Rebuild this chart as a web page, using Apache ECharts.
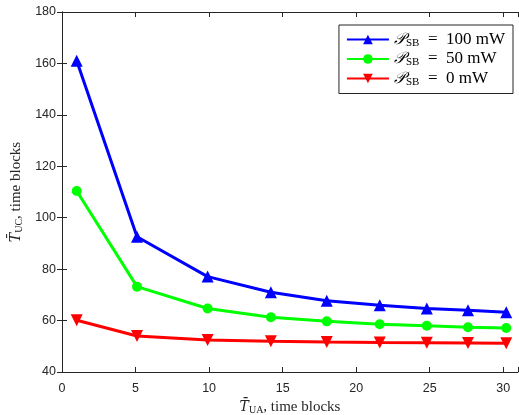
<!DOCTYPE html>
<html><head><meta charset="utf-8">
<script src="https://cdn.jsdelivr.net/npm/echarts@6/dist/echarts.min.js"></script>
<style>html,body{margin:0;padding:0;background:#fff}#c{width:519px;height:415px}</style>
</head><body><div id="c"></div>
<script>
const xValues = [1, 5.1, 9.9, 14.2, 18, 21.6, 24.8, 27.6, 30.2];
const p100 = [161, 92.6, 77.1, 71.0, 67.7, 66.0, 64.7, 64.0, 63.2];
const p50 = [110.4, 73.2, 64.7, 61.3, 59.7, 58.6, 58.0, 57.4, 57.1];
const p0 = [60.1, 54.0, 52.4, 52.0, 51.7, 51.5, 51.4, 51.3, 51.2];
const seriesNames = ['100', '50', '0'];
const xTicks = [0, 5, 10, 15, 20, 25, 30];
const yTicks = [40, 60, 80, 100, 120, 140, 160, 180];

const chart = echarts.init(document.getElementById('c'));
const axisColor = '#262626';
const pair = (ys) => xValues.map((x, i) => [x, ys[i]]);
const tickLabel = {color: axisColor, fontFamily: 'Liberation Sans', fontSize: 12.5};
const nameRich = {
  t: {fontFamily: 'DejaVu Serif', fontStyle: 'italic', fontSize: 14, color: axisColor},
  s: {fontFamily: 'Liberation Serif', fontSize: 10, color: axisColor, verticalAlign: 'bottom', padding: [6, 0, 0, 0]},
  n: {fontFamily: 'Liberation Serif', fontSize: 15, color: axisColor}
};
const xmin = 0, xmax = 31, ymin = 40, ymax = 180;
const baseX = {
  type: 'value', min: xmin, max: xmax, interval: 5,
  axisLine: {lineStyle: {color: axisColor, width: 1}},
  axisTick: {inside: true, length: 5, lineStyle: {color: axisColor}},
  splitLine: {show: false}
};
const baseY = {
  type: 'value', min: ymin, max: ymax, interval: 20,
  axisLine: {show: true, lineStyle: {color: axisColor, width: 1}},
  axisTick: {show: true, inside: true, length: 5, lineStyle: {color: axisColor}},
  splitLine: {show: false}
};
function mk(name, data, color, rotate) {
  return {
    name: name, type: 'line', data: pair(data),
    symbol: 'triangle', symbolSize: 12, symbolRotate: rotate,
    lineStyle: {color: color, width: 3}, itemStyle: {color: color},
    emphasis: {disabled: true}, animation: false
  };
}
const s100 = mk(seriesNames[0], p100, '#0000FF', 0);
const s50 = mk(seriesNames[1], p50, '#00FF00', 0);
s50.symbol = 'circle'; s50.symbolSize = 10;
const s0 = mk(seriesNames[2], p0, '#FF0000', 180);

chart.setOption({
  backgroundColor: '#fff',
  animation: false,
  grid: {left: 62, right: 1, top: 12, bottom: 43, containLabel: false, outerBoundsMode: 'none'},
  legend: {
    orient: 'vertical', right: 6, top: 25,
    backgroundColor: '#fff', borderColor: axisColor, borderWidth: 1,
    padding: [6, 8, 6, 7], itemGap: 2, itemWidth: 42, itemHeight: 12,
    data: seriesNames,
    formatter: (n) => '{p|𝒫}{s|SB}{n|\u2002=\u2002' + n + ' mW}',
    textStyle: {
      rich: {
        p: {fontFamily: 'DejaVu Serif', fontStyle: 'italic', fontSize: 16, color: '#000', height: 18},
        s: {fontFamily: 'Liberation Serif', fontSize: 11, color: '#000', verticalAlign: 'bottom', padding: [7, 0, 0, 0]},
        n: {fontFamily: 'Liberation Serif', fontSize: 17, color: '#000', height: 18}
      }
    }
  },
  xAxis: [
    Object.assign({}, baseX, {
      position: 'bottom',
      axisLabel: Object.assign({}, tickLabel, {margin: 10, formatter: (v) => xTicks.includes(v) ? String(v) : ''}),
      name: '{t|T\u0304}{s|UA}{n|, time blocks}', nameLocation: 'middle', nameGap: 27,
      nameTextStyle: {rich: nameRich}
    }),
    Object.assign({}, baseX, {position: 'top', axisLabel: {show: false}})
  ],
  yAxis: [
    Object.assign({}, baseY, {
      position: 'left',
      axisLabel: Object.assign({}, tickLabel, {margin: 6, formatter: (v) => yTicks.includes(v) ? String(v) : ''}),
      name: '{t|T\u0304}{s|UC}{n|, time blocks}', nameLocation: 'middle', nameGap: 38,
      nameTextStyle: {rich: nameRich}
    }),
    Object.assign({}, baseY, {position: 'right', axisLabel: {show: false}})
  ],
  series: [s100, s50, s0]
});
</script></body></html>
